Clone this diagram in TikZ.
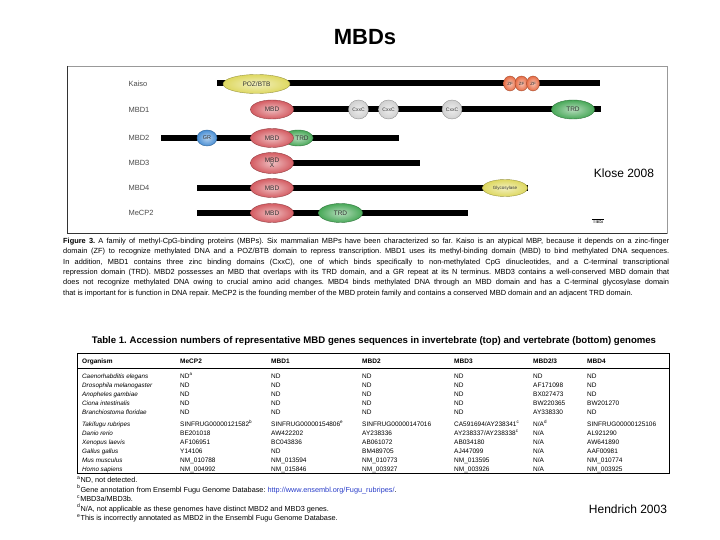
\documentclass[tikz,border=0pt]{standalone}
\usepackage{fontspec}
\setmainfont{Liberation Sans}
\usetikzlibrary{shapes.geometric}

\definecolor{mbdred}{RGB}{212,92,98}
\definecolor{pozyellow}{RGB}{222,216,96}
\definecolor{cxxgray}{RGB}{208,208,208}
\definecolor{trdgreen}{RGB}{72,168,88}
\definecolor{grblue}{RGB}{72,142,212}
\definecolor{zforange}{RGB}{232,108,68}
\definecolor{urlblue}{RGB}{40,60,200}

% one row of the accession table: name, baseline y, organism, six entries
\newcommand\accrow[9]{%
  \node[orgcell] (#1-org) at (82,#2) {#3};
  \node[cell] (#1-mecp) at (180,#2) {#4};
  \node[cell] (#1-mbdone) at (271,#2) {#5};
  \node[cell] (#1-mbdtwo) at (362,#2) {#6};
  \node[cell] (#1-mbdthree) at (454,#2) {#7};
  \node[cell] (#1-mbdtt) at (533,#2) {#8};
  \node[cell] (#1-mbdfour) at (587,#2) {#9};
}

\begin{document}
\frenchspacing
\begin{tikzpicture}[x=1pt,y=-1pt,
    prot/.style={line width=6pt},
    dom/.style={ellipse, draw=#1!70!black, line width=0.4pt, inner color=#1!40!white,
      outer color=#1, inner sep=0pt, text=black!80, font=\fontsize{6.5}{6}\selectfont},
    plabel/.style={anchor=west, text=black!70, font=\fontsize{7.5}{8}\selectfont},
    cell/.style={anchor=base west, inner sep=0pt, font=\fontsize{6.5}{7}\selectfont},
    orgcell/.style={cell, font=\fontsize{6.3}{7}\selectfont\itshape},
    headcell/.style={cell, font=\fontsize{6.5}{7}\selectfont\bfseries},
    fnote/.style={anchor=base west, inner sep=0pt, font=\fontsize{7.3}{8}\selectfont},
    cite/.style={inner sep=0pt, font=\fontsize{12}{13}\selectfont}]
\useasboundingbox (0,0) rectangle (720,540);

\node[font=\fontsize{22}{24}\selectfont\bfseries] (title) at (365,37) {MBDs};

% figure frame
\draw[black!40, line width=0.8pt] (67,66) rectangle (667,233);
\draw[black!80, line width=0.8pt] (67,66) -- (67,233) -- (667,233);

% backbones
\coordinate (kaiso-s) at (217,83.5);  \coordinate (kaiso-e) at (600,83.5);
\coordinate (mbd1-s) at (272,109.5);  \coordinate (mbd1-e) at (601,109.5);
\coordinate (mbd2-s) at (161,138);    \coordinate (mbd2-e) at (399,138);
\coordinate (mbd3-s) at (272,163);    \coordinate (mbd3-e) at (420,163);
\coordinate (mbd4-s) at (197,188);    \coordinate (mbd4-e) at (528,188);
\coordinate (mecp2-s) at (197,213);   \coordinate (mecp2-e) at (468,213);
\draw[prot] (kaiso-s) -- (kaiso-e);
\draw[prot] (mbd1-s) -- (mbd1-e);
\draw[prot] (mbd2-s) -- (mbd2-e);
\draw[prot] (mbd3-s) -- (mbd3-e);
\draw[prot] (mbd4-s) -- (mbd4-e);
\draw[prot] (mecp2-s) -- (mecp2-e);

\node[plabel] (lab-kaiso) at (125,83.5) {Kaiso};
\node[plabel] (lab-mbd1) at (125,109.5) {MBD1};
\node[plabel] (lab-mbd2) at (125,138) {MBD2};
\node[plabel] (lab-mbd3) at (125,163) {MBD3};
\node[plabel] (lab-mbd4) at (125,188) {MBD4};
\node[plabel] (lab-mecp2) at (125,213) {MeCP2};

% Kaiso
\node[dom=pozyellow, minimum width=67pt, minimum height=19pt] (poz) at (256.5,84) {POZ/BTB};
\node[dom=zforange, minimum width=13pt, minimum height=15pt, font=\fontsize{4.5}{5}\selectfont] (zf1) at (510,83.5) {ZF};
\node[dom=zforange, minimum width=13pt, minimum height=15pt, font=\fontsize{4.5}{5}\selectfont] (zf2) at (521.5,83.5) {ZF};
\node[dom=zforange, minimum width=13pt, minimum height=15pt, font=\fontsize{4.5}{5}\selectfont] (zf3) at (533,83.5) {ZF};
% MBD1
\node[dom=mbdred, minimum width=43pt, minimum height=19pt] (mbd1-mbd) at (272,109.5) {MBD};
\node[dom=cxxgray, minimum width=20pt, minimum height=19pt, font=\fontsize{5}{5}\selectfont] (cxxc1) at (358.5,109.5) {CxxC};
\node[dom=cxxgray, minimum width=20pt, minimum height=19pt, font=\fontsize{5}{5}\selectfont] (cxxc2) at (388.5,109.5) {CxxC};
\node[dom=cxxgray, minimum width=20pt, minimum height=19pt, font=\fontsize{5}{5}\selectfont] (cxxc3) at (452,109.5) {CxxC};
\node[dom=trdgreen, minimum width=43pt, minimum height=19pt] (mbd1-trd) at (573,109.5) {TRD};
% MBD2
\node[dom=grblue, minimum width=20pt, minimum height=16pt, font=\fontsize{5.5}{6}\selectfont] (gr) at (207,138) {GR};
\node[dom=trdgreen, minimum width=30pt, minimum height=16pt] (mbd2-trd) at (298,138) {\hspace*{8pt}TRD};
\node[dom=mbdred, minimum width=43pt, minimum height=19pt] (mbd2-mbd) at (272,138) {MBD};
% MBD3
\node[dom=mbdred, minimum width=43pt, minimum height=21pt, align=center,
  font=\fontsize{6.5}{5.5}\selectfont] (mbd3-mbd) at (272,163) {MBD\\X};
% MBD4
\node[dom=mbdred, minimum width=43pt, minimum height=19pt] (mbd4-mbd) at (272,188) {MBD};
\node[dom=pozyellow, minimum width=45pt, minimum height=17pt, font=\fontsize{4.5}{5}\selectfont] (glyco) at (505,188) {Glycosylase};
% MeCP2
\node[dom=mbdred, minimum width=43pt, minimum height=19pt] (mecp2-mbd) at (272,213) {MBD};
\node[dom=trdgreen, minimum width=44pt, minimum height=19pt] (mecp2-trd) at (340.5,213) {TRD};

\node[cite] (klose) at (624,173) {Klose 2008};
\node[inner sep=0.5pt, font=\fontsize{5}{5}\selectfont] (tibs) at (598,222) {TiBS};
\draw[line width=0.4pt] (tibs.north west) -- (tibs.north east);

% figure legend
\node[anchor=north west, inner sep=0pt, text width=606pt, align=justify,
  font=\fontsize{7.4}{10.3}\selectfont] (legend) at (63,238) {\parfillskip=0pt
  \textbf{Figure 3.} A family of methyl-CpG-binding proteins (MBPs). Six mammalian MBPs have been characterized so far. Kaiso is an atypical MBP, because it depends on a zinc-finger\linebreak
  domain (ZF) to recognize methylated DNA and a POZ/BTB domain to repress transcription. MBD1 uses its methyl-binding domain (MBD) to bind methylated DNA sequences.\linebreak
  In addition, MBD1 contains three zinc binding domains (CxxC), one of which binds specifically to non-methylated CpG dinucleotides, and a C-terminal transcriptional\linebreak
  repression domain (TRD). MBD2 possesses an MBD that overlaps with its TRD domain, and a GR repeat at its N terminus. MBD3 contains a well-conserved MBD domain that\linebreak
  does not recognize methylated DNA owing to crucial amino acid changes. MBD4 binds methylated DNA through an MBD domain and has a C-terminal glycosylase domain\linebreak
  that is important for is function in DNA repair. MeCP2 is the founding member of the MBD protein family and contains a conserved MBD domain and an adjacent TRD domain.};

% accession table
\node[font=\fontsize{9.6}{10}\selectfont\bfseries] (tabtitle) at (374,341)
  {Table 1. Accession numbers of representative MBD genes sequences in invertebrate (top) and vertebrate (bottom) genomes};
\draw[line width=0.9pt] (77,353) rectangle (669,473);
\draw[line width=0.6pt] (77,368) -- (669,368);

\node[headcell] (h-org) at (82,363.3) {Organism};
\node[headcell] (h-mecp) at (180,363.3) {MeCP2};
\node[headcell] (h-mbdone) at (271,363.3) {MBD1};
\node[headcell] (h-mbdtwo) at (362,363.3) {MBD2};
\node[headcell] (h-mbdthree) at (454,363.3) {MBD3};
\node[headcell] (h-mbdtt) at (533,363.3) {MBD2/3};
\node[headcell] (h-mbdfour) at (587,363.3) {MBD4};

\accrow{cel}{378.3}{Caenorhabditis elegans}{ND\textsuperscript{a}}{ND}{ND}{ND}{ND}{ND}
\accrow{dme}{387.3}{Drosophila melanogaster}{ND}{ND}{ND}{ND}{AF171098}{ND}
\accrow{aga}{396.3}{Anopheles gambiae}{ND}{ND}{ND}{ND}{BX027473}{ND}
\accrow{cin}{405.3}{Ciona intestinalis}{ND}{ND}{ND}{ND}{BW220365}{BW201270}
\accrow{bfl}{414.3}{Branchiostoma floridae}{ND}{ND}{ND}{ND}{AY338330}{ND}
\accrow{tru}{426.3}{Takifugu rubripes}{SINFRUG00000121582\textsuperscript{b}}{SINFRUG00000154806\textsuperscript{e}}{SINFRUG00000147016}{CA591694/AY238341\textsuperscript{c}}{N/A\textsuperscript{d}}{SINFRUG00000125106}
\accrow{dre}{435.3}{Danio rerio}{BE201018}{AW422202}{AY238336}{AY238337/AY238338\textsuperscript{c}}{N/A}{AL921290}
\accrow{xla}{444.3}{Xenopus laevis}{AF106951}{BC043836}{AB061072}{AB034180}{N/A}{AW641890}
\accrow{gga}{453.3}{Gallus gallus}{Y14106}{ND}{BM489705}{AJ447099}{N/A}{AAF00981}
\accrow{mmu}{462.3}{Mus musculus}{NM\_010788}{NM\_013594}{NM\_010773}{NM\_013595}{N/A}{NM\_010774}
\accrow{hsa}{471.3}{Homo sapiens}{NM\_004992}{NM\_015846}{NM\_003927}{NM\_003926}{N/A}{NM\_003925}

% footnotes
\node[fnote] (fn-a) at (77,482.5) {\textsuperscript{a}ND, not detected.};
\node[fnote] (fn-b) at (77,492) {\textsuperscript{b}Gene annotation from Ensembl Fugu Genome Database: \textcolor{urlblue}{http://www.ensembl.org/Fugu\_rubripes/}.};
\node[fnote] (fn-c) at (77,501.5) {\textsuperscript{c}MBD3a/MBD3b.};
\node[fnote] (fn-d) at (77,511) {\textsuperscript{d}N/A, not applicable as these genomes have distinct MBD2 and MBD3 genes.};
\node[fnote] (fn-e) at (77,520.5) {\textsuperscript{e}This is incorrectly annotated as MBD2 in the Ensembl Fugu Genome Database.};

\node[cite] (hendrich) at (628,509) {Hendrich 2003};
\end{tikzpicture}
\end{document}
